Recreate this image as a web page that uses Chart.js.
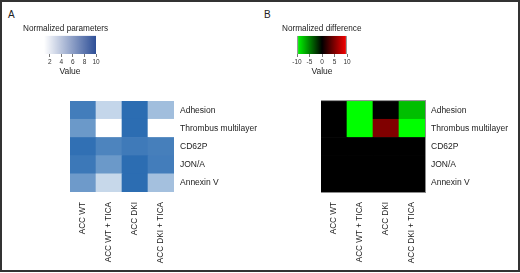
<!DOCTYPE html>
<html>
<head>
<meta charset="utf-8">
<script src="https://cdn.jsdelivr.net/npm/chart.js@4.4.0/dist/chart.umd.min.js"></script>
<style>
  body { margin: 0; background: #fff; }
  #frame {
    position: relative; width: 516px; height: 268px;
    border: 2px solid #333; overflow: hidden;
    font-family: "Liberation Sans", Arial, sans-serif; color: #222;
  }
  canvas { position: absolute; }
  .panel { position: absolute; font-size: 10px; line-height: 10px; }
</style>
</head>
<body>
<div id="frame">
  <div class="panel" style="left:6px; top:8px;">A</div>
  <div class="panel" style="left:262px; top:8px;">B</div>
  <canvas id="barA" width="100" height="56" style="left:21px; top:20px;"></canvas>
  <canvas id="barB" width="100" height="56" style="left:280px; top:20px;"></canvas>
  <canvas id="heatA" width="190" height="178" style="left:68px; top:88px;"></canvas>
  <canvas id="heatB" width="190" height="178" style="left:319px; top:88px;"></canvas>
</div>
<script>
// columns and rows of both heatmaps
const columns = ['ACC WT', 'ACC WT + TICA', 'ACC DKI', 'ACC DKI + TICA'];
const rows = ['Adhesion', 'Thrombus multilayer', 'CD62P', 'JON/A', 'Annexin V'];

// A: normalized parameters
const paramAdhesion = [9.0, 3.5, 10, 5.0];
const paramThrombus = [7.3, 1.0, 10, 1.0];
const paramCD62P    = [9.8, 8.6, 9.2, 8.9];
const paramJONA     = [9.3, 7.3, 10, 9.0];
const paramAnnexin  = [7.2, 3.4, 10, 4.9];

// B: normalized difference
const diffAdhesion = [0, -10, 0, -7.5];
const diffThrombus = [0, -10, 5, -10];
const diffCD62P    = [0, 0, 0, 0];
const diffJONA     = [0, 0, 0, 0];
const diffAnnexin  = [0, 0, 0, 0];

// colour bar scales
const paramRange = [1, 10];
const paramTicks = [2, 4, 6, 8, 10];
const diffRange = [-10, 10];
const diffTicks = [-10, -5, 0, 5, 10];

Chart.defaults.font.family = '"Liberation Sans", Arial, sans-serif';
Chart.defaults.color = '#222';

function mix(a, b, t) {
  return a.map((v, i) => Math.round(v + (b[i] - v) * t));
}
function blueColor(v) {
  const t = (v - paramRange[0]) / (paramRange[1] - paramRange[0]);
  return 'rgb(' + mix([255, 255, 255], [44, 109, 178], t) + ')';
}
function diffColor(v) {
  const t = Math.min(Math.abs(v) / 10, 1);
  const g = Math.round(255 * t);
  return v < 0 ? 'rgb(0,' + g + ',0)' : 'rgb(' + g + ',0,0)';
}

const areaOutline = {
  id: 'areaOutline',
  afterDatasetsDraw(chart) {
    const { ctx, chartArea: a } = chart;
    ctx.save();
    ctx.strokeStyle = '#8c8c8c';
    ctx.lineWidth = 1;
    ctx.strokeRect(a.left - 0.5, a.top - 0.5, a.width + 1, a.height + 1);
    ctx.restore();
  }
};

function heatmap(id, values, colorFn, plugins) {
  // stacked bars of height 1, bottom row first
  const datasets = values.map((vals, i) => ({
    label: rows[i],
    data: vals.map(() => 1),
    backgroundColor: vals.map(colorFn),
    borderWidth: 0,
    barPercentage: 1,
    categoryPercentage: 1
  })).reverse();

  return new Chart(document.getElementById(id), {
    type: 'bar',
    data: { labels: columns, datasets: datasets },
    options: {
      responsive: false,
      animation: false,
      plugins: { legend: { display: false }, tooltip: { enabled: false } },
      scales: {
        x: {
          stacked: true,
          grid: { display: false, drawTicks: false },
          border: { display: false },
          ticks: { autoSkip: false, minRotation: 90, maxRotation: 90, padding: 10, font: { size: 8.2 } },
          afterFit: s => { s.height = 76; }
        },
        y: { stacked: true, display: false, min: 0, max: rows.length },
        yRows: {
          type: 'category',
          position: 'right',
          labels: rows,
          offset: true,
          grid: { display: false, drawTicks: false },
          border: { display: false },
          ticks: { padding: 6, font: { size: 8.5 } },
          afterFit: s => { s.width = 86; }
        }
      }
    },
    plugins: plugins || []
  });
}

function colorbar(id, title, range, ticks, stops, padLeft, padRight, edges) {
  return new Chart(document.getElementById(id), {
    type: 'bar',
    data: {
      labels: ['Value'],
      datasets: [{
        data: [range],
        backgroundColor: c => {
          const chart = c.chart;
          if (!chart.chartArea) return stops[0];
          const xs = chart.scales.x;
          const g = chart.ctx.createLinearGradient(xs.getPixelForValue(range[0]), 0, xs.getPixelForValue(range[1]), 0);
          stops.forEach((col, i) => g.addColorStop(i / (stops.length - 1), col));
          return g;
        },
        borderColor: '#9a9a9a',
        borderWidth: edges ? { left: 1.5, right: 1.5, top: 0, bottom: 0 } : 0,
        borderSkipped: false,
        barPercentage: 1,
        categoryPercentage: 1
      }]
    },
    options: {
      indexAxis: 'y',
      responsive: false,
      animation: false,
      plugins: {
        legend: { display: false },
        tooltip: { enabled: false },
        title: {
          display: true, text: title, align: 'start',
          font: { size: 8.2, weight: 'normal' },
          padding: { top: 1.6, bottom: 2.3 }
        }
      },
      scales: {
        x: {
          min: range[0], max: range[1],
          afterBuildTicks: s => { s.ticks = ticks.map(v => ({ value: v })); },
          grid: { drawOnChartArea: false, tickLength: 3, color: '#777' },
          border: { display: false },
          ticks: { autoSkip: false, minRotation: 0, maxRotation: 0, padding: 1, color: '#333', font: { size: 6.5 } },
          title: { display: true, text: 'Value', font: { size: 8.5 }, padding: { top: 0, bottom: 1.5 } },
          afterFit: s => { s.height = 24; }
        },
        y: {
          ticks: { display: false }, grid: { display: false }, border: { display: false },
          afterFit: s => { s.width = padLeft; }
        },
        yPad: {
          type: 'category', position: 'right',
          ticks: { display: false }, grid: { display: false }, border: { display: false },
          afterFit: s => { s.width = padRight; }
        }
      }
    }
  });
}

colorbar('barA', 'Normalized parameters', paramRange, paramTicks, ['#ffffff', '#2e4f97'], 21, 27, false);
colorbar('barB', 'Normalized difference', diffRange, diffTicks, ['#00ff00', '#000000', '#ff0000'], 15, 35, true);

heatmap('heatA', [paramAdhesion, paramThrombus, paramCD62P, paramJONA, paramAnnexin], blueColor);
heatmap('heatB', [diffAdhesion, diffThrombus, diffCD62P, diffJONA, diffAnnexin], diffColor, [areaOutline]);
</script>
</body>
</html>
